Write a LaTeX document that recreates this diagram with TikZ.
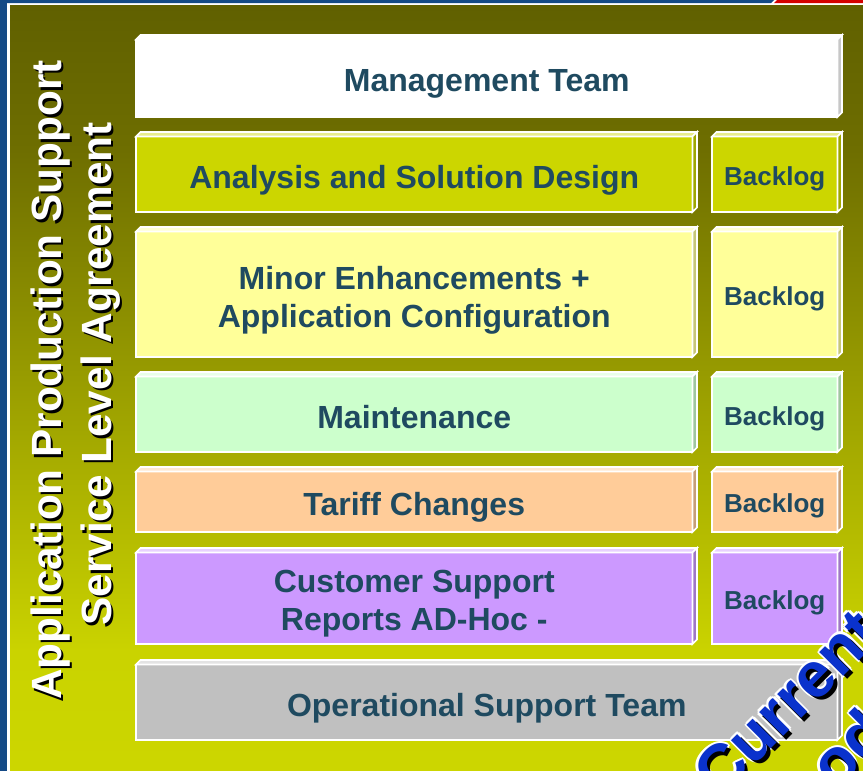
\documentclass[tikz,border=0pt]{standalone}
\usepackage{fontspec}
\setmainfont{Liberation Sans}

\definecolor{labelblue}{HTML}{1F4A60}
\definecolor{framebar}{HTML}{144A86}
\definecolor{cornerred}{HTML}{D40000}
\definecolor{olivetop}{HTML}{606000}
\definecolor{olivemid}{HTML}{6E6E00}
\definecolor{olivelow}{HTML}{CAD300}
\definecolor{olivebottom}{HTML}{CCD600}
\definecolor{limeface}{HTML}{CCD600}
\definecolor{paleyellow}{HTML}{FFFF99}
\definecolor{palegreen}{HTML}{CCFFCC}
\definecolor{peach}{HTML}{FFCC99}
\definecolor{lilac}{HTML}{CC99FF}
\definecolor{silver}{HTML}{C0C0C0}
\definecolor{artblue}{HTML}{0A32CC}

% A bevelled slab: front face, lighter top strip, darker right side, all edged in white.
% #1 name, #2 x1, #3 y1, #4 x2, #5 y2, #6 face colour, #7 label style, #8 label
\newcommand\tierbox[8]{%
  \filldraw[edge,fill=#6] (#2,#3+4.5) rectangle (#4-4.5,#5);
  \filldraw[edge,fill=#6!45!white] (#2,#3+4.5) -- (#2+4.5,#3) -- (#4,#3) -- (#4-4.5,#3+4.5) -- cycle;
  \filldraw[edge,fill=#6!78!black] (#4-4.5,#3+4.5) -- (#4,#3) -- (#4,#5-4.5) -- (#4-4.5,#5) -- cycle;
  \node[#7] (#1) at ({(#2+#4-4.5)/2},{(#3+4.5+#5)/2}) {#8};
}

% White text with a dark drop shadow
% #1 name, #2 position (x,y), #3 text
\newcommand\shadowtitle[3]{%
  \node[sidetitle,text=black] at ([shift={(2.5,2.5)}]#2) {#3};
  \node[sidetitle,text=white] (#1) at (#2) {#3};
}

% Blue outlined word with a shadow
\newcommand\outlineword[3]{%
  \foreach \dx/\dy in {-2.2/0,2.2/0,0/-2.2,0/2.2,-1.6/-1.6,1.6/1.6,-1.6/1.6,1.6/-1.6}
    \node[artword,text=white] at ([shift={(\dx,\dy)}]#2) {#3};
  \node[artword,text=black] at ([shift={(3.5,3.5)}]#2) {#3};
  \node[artword,text=artblue] (#1) at (#2) {#3};
}

\begin{document}
\begin{tikzpicture}[x=1pt,y=-1pt,
  edge/.style={draw=white,line width=1.6pt,line join=miter},
  lbl/.style={text=labelblue,font=\bfseries\fontsize{32}{38}\selectfont,align=center,inner sep=0pt,text depth=0.22em,yshift=-3.4pt},
  blg/.style={text=labelblue,font=\bfseries\fontsize{26}{30}\selectfont,inner sep=0pt,text depth=0.22em,yshift=-2.8pt},
  sidetitle/.style={font=\bfseries\fontsize{42.3}{48}\selectfont,rotate=90,anchor=base,inner sep=0pt},
  artword/.style={font=\bfseries\fontsize{64}{64}\selectfont,rotate=45,anchor=base west,inner sep=0pt},
]
\useasboundingbox (0,0) rectangle (863,771);
\clip (0,0) rectangle (863,771);

% frame: blue left bar, blue/red top bar, thin white rule inside
\fill[white] (0,0) rectangle (863,771);
\fill[framebar] (0,0) rectangle (7,771);
\fill[framebar] (0,0) -- (774,0) -- (771,3) -- (0,3) -- cycle;
\fill[cornerred] (777,0) -- (863,0) -- (863,3) -- (774,3) -- cycle;

% olive background fading to yellow-green
\shade[top color=olivetop,bottom color=olivemid] (10,5) rectangle (863,150.5);
\shade[top color=olivemid,bottom color=olivelow] (10,150) rectangle (863,650.5);
\shade[top color=olivelow,bottom color=olivebottom] (10,650) rectangle (863,771);

% side title
\shadowtitle{sla1}{61,380}{Application Production Support}
\shadowtitle{sla2}{111,374}{Service Level Agreement}

% tiers
\tierbox{mgmt}{136}{35}{842}{117}{white}{lbl}{Management Team}
\tierbox{design}{136}{132}{697}{212}{limeface}{lbl}{Analysis and Solution Design}
\tierbox{blogA}{712}{132}{842}{212}{limeface}{blg}{Backlog}
\tierbox{minor}{136}{227}{697}{357}{paleyellow}{lbl}{Minor Enhancements +\\Application Configuration}
\tierbox{blogB}{712}{227}{842}{357}{paleyellow}{blg}{Backlog}
\tierbox{maint}{136}{372}{697}{452}{palegreen}{lbl}{Maintenance}
\tierbox{blogC}{712}{372}{842}{452}{palegreen}{blg}{Backlog}
\tierbox{tariff}{136}{467}{697}{532}{peach}{lbl}{Tariff Changes}
\tierbox{blogD}{712}{467}{842}{532}{peach}{blg}{Backlog}
\tierbox{cust}{136}{548}{697}{644}{lilac}{lbl}{Customer Support\\Reports AD-Hoc -}
\tierbox{blogE}{712}{548}{842}{644}{lilac}{blg}{Backlog}
\tierbox{ops}{136}{660}{842}{740}{silver}{lbl}{Operational Support Team}

% diagonal word in the lower right corner
\outlineword{current}{720,800}{Current}
\outlineword{second}{836,792}{od}
\end{tikzpicture}
\end{document}
